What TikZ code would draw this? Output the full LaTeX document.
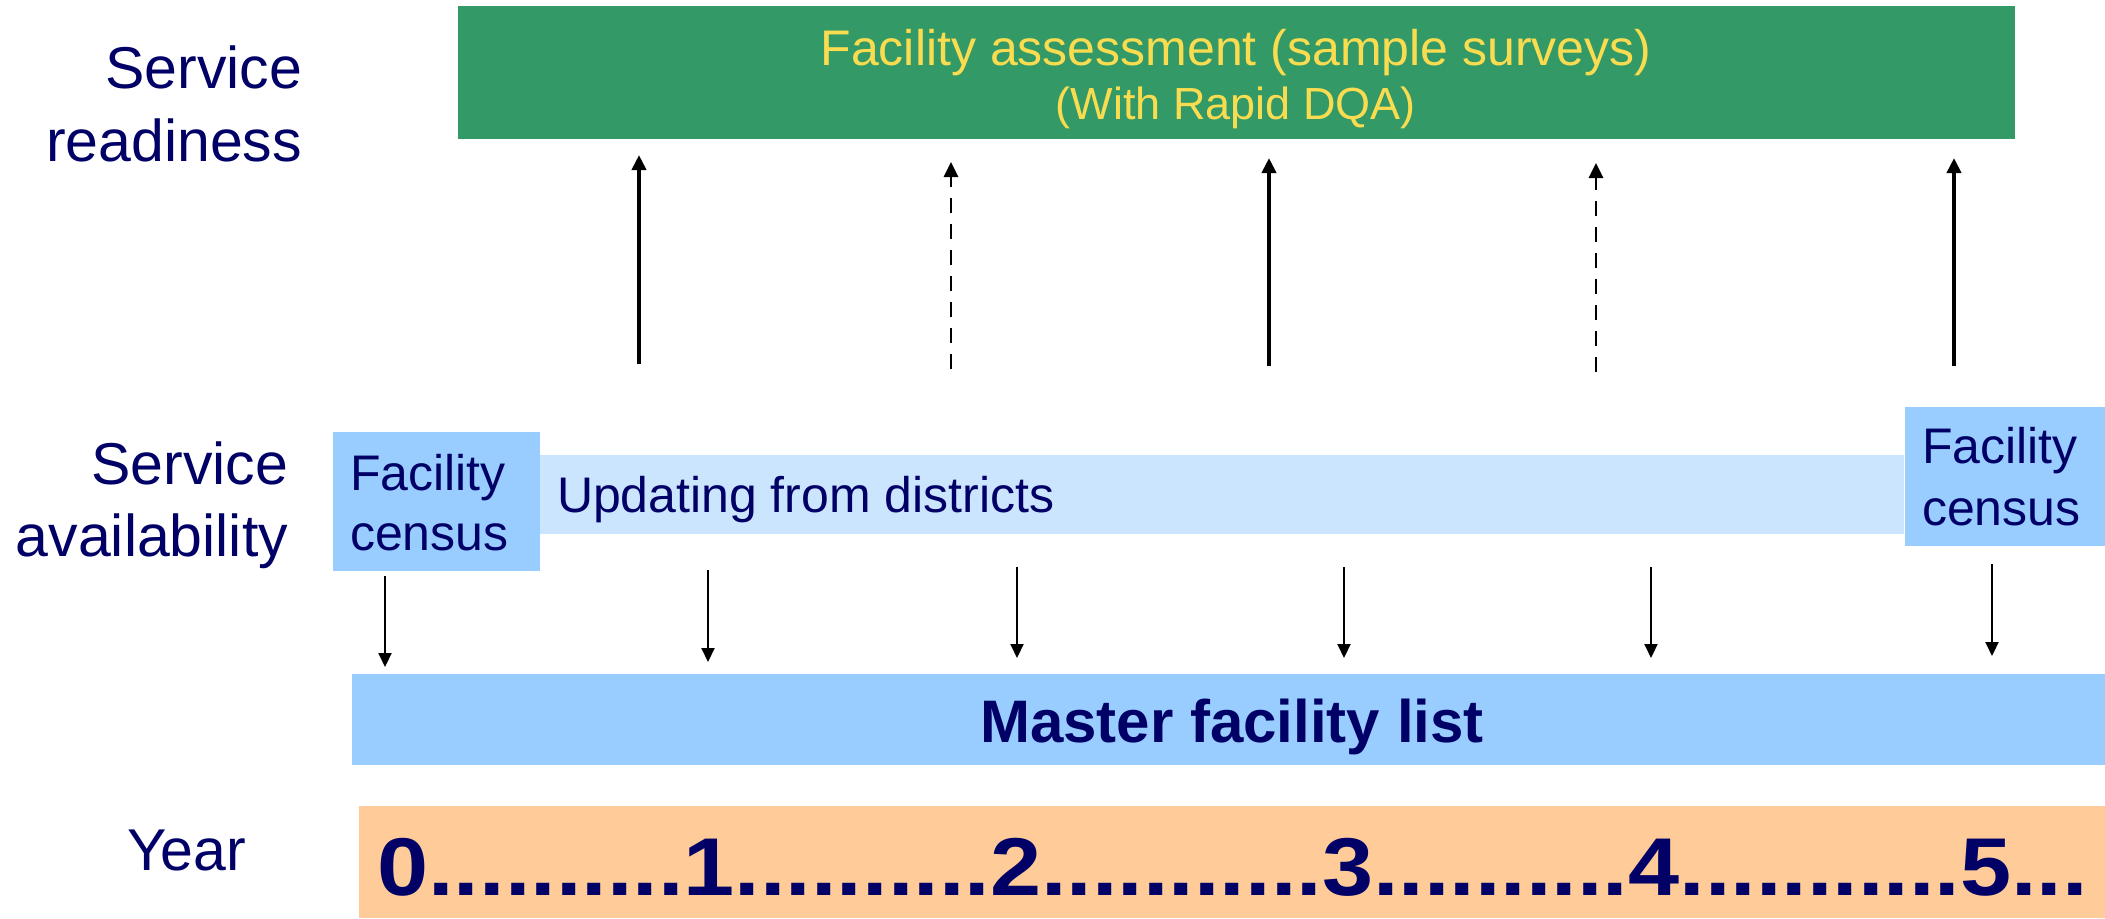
\documentclass[tikz,border=0pt]{standalone}
\usepackage{fontspec}
\setmainfont{Liberation Sans}
\usetikzlibrary{arrows.meta}
\definecolor{fagreen}{RGB}{51,153,102}
\definecolor{fayellow}{RGB}{250,220,80}
\definecolor{navy}{RGB}{0,0,102}
\definecolor{censusblue}{RGB}{153,204,255}
\definecolor{updblue}{RGB}{204,229,255}
\definecolor{yearorange}{RGB}{255,204,153}
\begin{document}
\begin{tikzpicture}[x=0.5pt,y=-0.5pt,
  box/.style={draw=none,inner sep=0pt,outer sep=0pt,anchor=north west},
  lbl/.style={inner sep=0pt,outer sep=0pt,text=navy,font=\fontsize{29.5}{36.5}\selectfont},
  boxtxt/.style={inner sep=0pt,outer sep=0pt,text=navy,font=\fontsize{25}{30}\selectfont},
  uparrow/.style={line width=2.2pt,-{Triangle[width=7pt,length=7.5pt]}},
  dasharrow/.style={line width=1.4pt,dash pattern=on 7.5pt off 5.5pt,-{Triangle[width=7pt,length=7.5pt]}},
  downarrow/.style={line width=1pt,-{Triangle[width=6.5pt,length=7pt]}}]
\useasboundingbox (0,0) rectangle (2105,918);

% boxes
\node[box,fill=fagreen,minimum width=778.5pt,minimum height=66.5pt] (assess) at (458,6) {};
\node[box,fill=updblue,minimum width=682pt,minimum height=39.5pt] (update) at (540,455) {};
\node[box,fill=censusblue,minimum width=103.5pt,minimum height=69.5pt] (censusL) at (333,432) {};
\node[box,fill=censusblue,minimum width=100pt,minimum height=69.5pt] (censusR) at (1905,407) {};
\node[box,fill=censusblue,minimum width=876.5pt,minimum height=45.5pt] (mfl) at (352,674) {};
\node[box,fill=yearorange,minimum width=873pt,minimum height=56pt] (years) at (359,806) {};

% texts (base anchor = baseline of the last line)
\node[lbl,anchor=base east,align=right] (sr) at (302,161) {Service\\readiness};
\node[lbl,anchor=base east,align=right,font=\fontsize{29.5}{36}\selectfont] (sa) at (288,556) {Service\\availability};
\node[lbl,anchor=base west] (yr) at (127,870) {Year};
\node[inner sep=0pt,text=fayellow,anchor=base,align=center,font=\fontsize{25}{27}\selectfont] (assesstxt) at (1236,119) {Facility assessment (sample surveys)\\{\fontsize{22.5}{27}\selectfont(With Rapid DQA)}};
\node[boxtxt,anchor=base west] (updtxt) at (557,512) {Updating from districts};
\node[boxtxt,anchor=base west,align=left] (censusLtxt) at (350,550) {Facility\\census};
\node[boxtxt,anchor=base west,align=left,font=\fontsize{25}{31}\selectfont] (censusRtxt) at (1922,525) {Facility\\census};
\node[inner sep=0pt,text=navy,anchor=base,font=\bfseries\fontsize{30}{36}\selectfont] (mfltxt) at (1232,742) {Master facility list};
\node[inner sep=0pt,text=navy,anchor=base west,font=\bfseries\fontsize{41}{48}\selectfont] (yeartxt) at (377,895) {\scalebox{1.12}[1]{0..........1..........2...........3..........4...........5...}};

% upward arrows
\coordinate (u1a) at (639,364); \coordinate (u1b) at (639,155);
\coordinate (u2a) at (951,369); \coordinate (u2b) at (951,162);
\coordinate (u3a) at (1269,366); \coordinate (u3b) at (1269,158);
\coordinate (u4a) at (1596,372); \coordinate (u4b) at (1596,163);
\coordinate (u5a) at (1954,366); \coordinate (u5b) at (1954,158);
\draw[uparrow] (u1a) -- (u1b);
\draw[dasharrow] (u2a) -- (u2b);
\draw[uparrow] (u3a) -- (u3b);
\draw[dasharrow] (u4a) -- (u4b);
\draw[uparrow] (u5a) -- (u5b);

% downward arrows
\coordinate (d1a) at (385,576); \coordinate (d1b) at (385,667);
\coordinate (d2a) at (708,570); \coordinate (d2b) at (708,662);
\coordinate (d3a) at (1017,567); \coordinate (d3b) at (1017,658);
\coordinate (d4a) at (1344,567); \coordinate (d4b) at (1344,658);
\coordinate (d5a) at (1651,567); \coordinate (d5b) at (1651,658);
\coordinate (d6a) at (1992,564); \coordinate (d6b) at (1992,656);
\draw[downarrow] (d1a) -- (d1b);
\draw[downarrow] (d2a) -- (d2b);
\draw[downarrow] (d3a) -- (d3b);
\draw[downarrow] (d4a) -- (d4b);
\draw[downarrow] (d5a) -- (d5b);
\draw[downarrow] (d6a) -- (d6b);
\end{tikzpicture}
\end{document}
